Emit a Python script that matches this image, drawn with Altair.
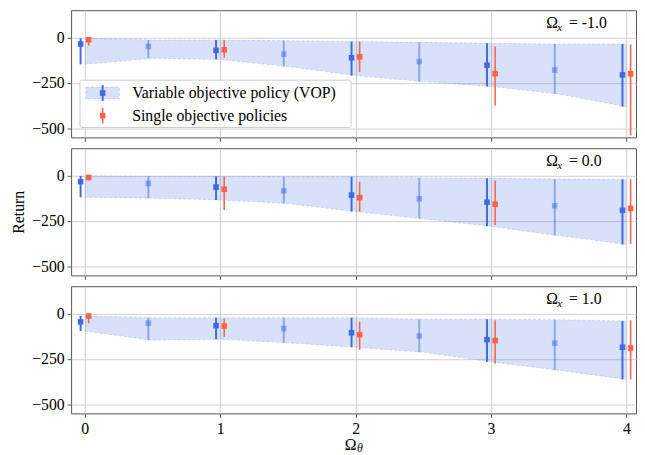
import altair as alt
import pandas as pd

BLUE = "#4169E1"
RED = "#FF6347"
FONT = "Liberation Serif"

x_vop = [0, 0.5, 1, 1.5, 2, 2.5, 3, 3.5, 4]
x_sop = [0, 1, 2, 3, 4]
panel_labels = ["-1.0", "0.0", "1.0"]

# Omega_x = -1.0
vop_mean_a = [-36, -50, -71, -92, -112, -133, -153, -179, -206]
vop_hi_a = [-5, -14, -14, -18, -23, -27, -32, -36, -36]
vop_lo_a = [-148, -115, -121, -160, -210, -243, -270, -311, -381]
sop_mean_a = [-13, -68, -107, -199, -200]
sop_hi_a = [0, -14, -23, -50, -39]
sop_lo_a = [-45, -112, -190, -376, -540]

# Omega_x = 0.0
vop_mean_b = [-34, -44, -64, -85, -108, -128, -147, -167, -192]
vop_hi_b = [-2, -4, -4, -7, -7, -12, -16, -20, -21]
vop_lo_b = [-120, -125, -135, -154, -199, -238, -280, -331, -380]
sop_mean_b = [-11, -76, -122, -158, -181]
sop_hi_b = [0, -7, -34, -28, -21]
sop_lo_b = [-28, -190, -199, -273, -377]

# Omega_x = 1.0
vop_mean_c = [-46, -53, -67, -83, -106, -124, -144, -163, -186]
vop_hi_c = [-13, -23, -23, -23, -23, -32, -32, -34, -41]
vop_lo_c = [-97, -147, -142, -161, -186, -213, -266, -312, -363]
sop_mean_c = [-14, -69, -117, -149, -190]
sop_hi_c = [-2, -28, -46, -37, -37]
sop_lo_c = [-53, -129, -200, -277, -363]

W, H = 573, 129
xscale = alt.Scale(domain=[-0.1, 4.07], nice=False, zero=False)
yscale = alt.Scale(domain=[-550, 150], nice=False, zero=False)

AX = dict(labelFont=FONT, titleFont=FONT, labelFontSize=16, titleFontSize=16,
          labelColor="black", titleColor="black", titleFontWeight="normal",
          tickColor="#555555", tickSize=4, labelPadding=3, gridColor="#d0d0d0",
          domain=False, grid=True, format="d")


def panel(vm, vh, vl, sm, sh, sl, label, first=False, middle=False, last=False):
    vdf = pd.DataFrame({
        "x": x_vop,
        "xs": [v - 0.03 for v in x_vop],
        "mean": vm, "hi": vh, "lo": vl,
        "alpha": [1.0 if float(v).is_integer() else 0.5 for v in x_vop],
    })
    sdf = pd.DataFrame({
        "x": x_sop,
        "xs": [v + 0.03 for v in x_sop],
        "mean": sm, "hi": sh, "lo": sl,
    })
    xaxis = alt.Axis(values=[0, 1, 2, 3, 4], labels=last, title=None,
                     labelFlush=False, **AX)
    yaxis = alt.Axis(values=[0, -250, -500], title="Return" if middle else None,
                     titlePadding=5,
                     labelExpr="replace(datum.label, '-', '\u2212')", **AX)

    def X(f):
        return alt.X(f + ":Q", scale=xscale, axis=xaxis, title=None)

    def Y(f):
        return alt.Y(f + ":Q", scale=yscale, axis=yaxis,
                     title="Return" if middle else None)

    band = alt.Chart(vdf).mark_area(color=BLUE, opacity=0.2).encode(
        x=X("x"), y=Y("lo"), y2="hi:Q")
    edge_lo = alt.Chart(vdf).mark_line(color=BLUE, opacity=0.25, strokeDash=[3, 2],
                                       strokeWidth=0.8).encode(x=X("x"), y=Y("lo"))
    edge_hi = alt.Chart(vdf).mark_line(color=BLUE, opacity=0.25, strokeDash=[3, 2],
                                       strokeWidth=0.8).encode(x=X("x"), y=Y("hi"))
    vbar = alt.Chart(vdf).mark_rule(color=BLUE, strokeWidth=2).encode(
        x=X("xs"), y=Y("lo"), y2="hi:Q",
        opacity=alt.Opacity("alpha:Q", scale=None))
    vpt = alt.Chart(vdf).mark_square(color=BLUE, size=32, filled=True).encode(
        x=X("xs"), y=Y("mean"),
        opacity=alt.Opacity("alpha:Q", scale=None))
    sbar = alt.Chart(sdf).mark_rule(color=RED, strokeWidth=1.6).encode(
        x=X("xs"), y=Y("lo"), y2="hi:Q")
    spt = alt.Chart(sdf).mark_square(color=RED, size=32, filled=True, opacity=1).encode(
        x=X("xs"), y=Y("mean"))

    t1 = alt.Chart().mark_text(text="\u03a9", font=FONT, fontSize=16, align="left",
                               baseline="alphabetic").encode(x=alt.value(482), y=alt.value(18))
    t2 = alt.Chart().mark_text(text="x", font=FONT, fontSize=11, fontStyle="italic",
                               align="left", baseline="alphabetic").encode(
        x=alt.value(493), y=alt.value(21))
    t3 = alt.Chart().mark_text(text="= " + label, font=FONT, fontSize=16, align="left",
                               baseline="alphabetic").encode(x=alt.value(505), y=alt.value(18))
    layers = [band, edge_lo, edge_hi, vbar, vpt, sbar, spt, t1, t2, t3]

    if first:
        box = alt.Chart().mark_rect(fill="white", fillOpacity=0.85, stroke="#cccccc",
                                    strokeWidth=1, cornerRadius=2).encode(
            x=alt.value(9), x2=alt.value(284), y=alt.value(71), y2=alt.value(119))
        patch = alt.Chart().mark_rect(fill=BLUE, fillOpacity=0.2, stroke=BLUE,
                                      strokeOpacity=0.25, strokeDash=[3, 2],
                                      strokeWidth=0.8).encode(
            x=alt.value(15), x2=alt.value(49), y=alt.value(78), y2=alt.value(90))
        lb = alt.Chart().mark_rule(color=BLUE, strokeWidth=2).encode(
            x=alt.value(32), y=alt.value(76), y2=alt.value(92))
        lp = alt.Chart().mark_square(color=BLUE, size=32, opacity=1).encode(
            x=alt.value(32), y=alt.value(84))
        lt = alt.Chart().mark_text(text="Variable objective policy (VOP)", font=FONT,
                                   fontSize=16, align="left", baseline="middle").encode(
            x=alt.value(62), y=alt.value(84))
        rb = alt.Chart().mark_rule(color=RED, strokeWidth=1.6).encode(
            x=alt.value(32), y=alt.value(99), y2=alt.value(115))
        rp = alt.Chart().mark_square(color=RED, size=32, opacity=1).encode(
            x=alt.value(32), y=alt.value(107))
        rt = alt.Chart().mark_text(text="Single objective policies", font=FONT,
                                   fontSize=16, align="left", baseline="middle").encode(
            x=alt.value(62), y=alt.value(107))
        layers += [box, patch, lb, lp, lt, rb, rp, rt]

    if last:
        o = alt.Chart().mark_text(text="\u03a9", font=FONT, fontSize=16, align="right",
                                  baseline="alphabetic").encode(
            x=alt.value(289.5), y=alt.value(H + 37))
        th = alt.Chart().mark_text(text="\u03b8", font=FONT, fontSize=12, fontStyle="italic",
                                   align="left", baseline="alphabetic").encode(
            x=alt.value(290), y=alt.value(H + 39))
        layers += [o, th]

    return alt.layer(*layers).properties(width=W, height=H)


p1 = panel(vop_mean_a, vop_hi_a, vop_lo_a, sop_mean_a, sop_hi_a, sop_lo_a,
           panel_labels[0], first=True)
p2 = panel(vop_mean_b, vop_hi_b, vop_lo_b, sop_mean_b, sop_hi_b, sop_lo_b,
           panel_labels[1], middle=True)
p3 = panel(vop_mean_c, vop_hi_c, vop_lo_c, sop_mean_c, sop_hi_c, sop_lo_c,
           panel_labels[2], last=True)

chart = alt.vconcat(p1, p2, p3, spacing=5).properties(
    padding={"left": 2, "top": -2, "right": 0, "bottom": 0}
).configure_view(stroke="#555555", strokeWidth=1)

chart.save("out.html", embed_options={"renderer": "svg", "actions": False})
